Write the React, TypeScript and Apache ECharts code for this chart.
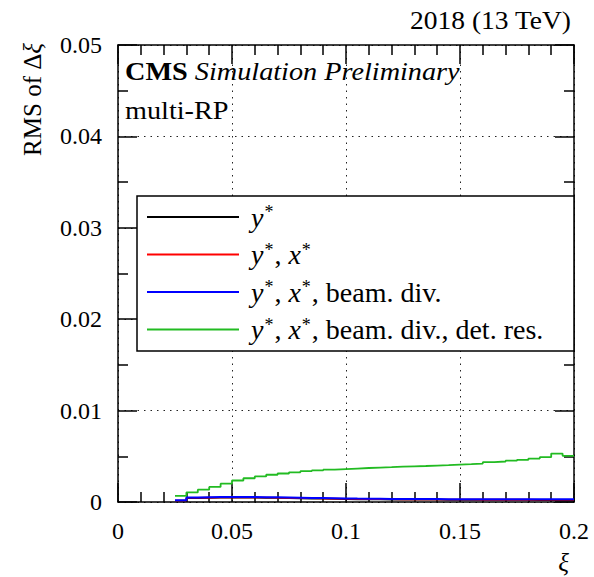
import React, { useEffect, useRef } from "react";
import * as echarts from "echarts";

// Lower edges of the xi bins (bin width 0.005); the last bin closes at 0.2
const BIN_LOW = [
  0.025, 0.03, 0.035, 0.04, 0.045, 0.05, 0.055, 0.06, 0.065, 0.07, 0.075, 0.08,
  0.085, 0.09, 0.095, 0.1, 0.105, 0.11, 0.115, 0.12, 0.125, 0.13, 0.135, 0.14,
  0.145, 0.15, 0.155, 0.16, 0.165, 0.17, 0.175, 0.18, 0.185, 0.19, 0.195,
];
const XI_MAX = 0.2;

// RMS of delta-xi per bin for each set of simulated effects
const RMS_Y = [
  0.00014, 0.00042, 0.00044, 0.00046, 0.00047, 0.00047, 0.00046, 0.00045, 0.00043,
  0.00041, 0.00039, 0.00037, 0.00035, 0.00033, 0.00031, 0.00029, 0.00028, 0.00027,
  0.00026, 0.00025, 0.00025, 0.00024, 0.00024, 0.00023, 0.00023, 0.00023, 0.00022,
  0.00022, 0.00022, 0.00022, 0.00022, 0.00021, 0.00021, 0.00021, 0.00021,
];
const RMS_YX = [
  0.00017, 0.00046, 0.00048, 0.00050, 0.00051, 0.00051, 0.00050, 0.00049, 0.00047,
  0.00045, 0.00043, 0.00041, 0.00039, 0.00037, 0.00035, 0.00033, 0.00032, 0.00031,
  0.00030, 0.00029, 0.00029, 0.00028, 0.00028, 0.00027, 0.00027, 0.00027, 0.00026,
  0.00026, 0.00026, 0.00026, 0.00026, 0.00025, 0.00025, 0.00025, 0.00025,
];
const RMS_YX_DIV = [
  0.00020, 0.00050, 0.00052, 0.00054, 0.00055, 0.00055, 0.00054, 0.00053, 0.00051,
  0.00049, 0.00047, 0.00045, 0.00043, 0.00041, 0.00039, 0.00037, 0.00036, 0.00035,
  0.00034, 0.00033, 0.00033, 0.00032, 0.00032, 0.00031, 0.00031, 0.00031, 0.00030,
  0.00030, 0.00030, 0.00030, 0.00030, 0.00029, 0.00029, 0.00029, 0.00029,
];
const RMS_YX_DIV_RES = [
  0.00068, 0.00105, 0.00135, 0.00165, 0.00200, 0.00235, 0.00260, 0.00280, 0.00298,
  0.00312, 0.00325, 0.00337, 0.00346, 0.00354, 0.00360, 0.00366, 0.00372, 0.00377,
  0.00381, 0.00386, 0.00390, 0.00394, 0.00399, 0.00404, 0.00410, 0.00414, 0.00420,
  0.00436, 0.00443, 0.00452, 0.00461, 0.00475, 0.00490, 0.00530, 0.00505,
];

const SERIES_NAMES = [
  "y*",
  "y*, x*",
  "y*, x*, beam. div.",
  "y*, x*, beam. div., det. res.",
];
const SERIES_COLORS = ["#000000", "#ff0000", "#0000ff", "#22bb22"];
const SERIES_WIDTHS = [1.6, 1.6, 2, 1.8];
const SERIES_VALUES = [RMS_Y, RMS_YX, RMS_YX_DIV, RMS_YX_DIV_RES];

const SERIF = "Liberation Serif";

// Histogram outline: each bin value held from its lower edge to the next edge
function histPoints(values: number[]): [number, number][] {
  const pts: [number, number][] = BIN_LOW.map((x, i) => [x, values[i]]);
  pts.push([XI_MAX, values[values.length - 1]]);
  return pts;
}

// Turn "y*" / "x*" into italic letters with a raised asterisk
function richLabel(name: string): string {
  return name
    .split(/(y\*|x\*)/)
    .filter((s) => s.length > 0)
    .map((s) => {
      if (s === "y*") return "{i|y}{s|*}";
      if (s === "x*") return "{i|x}{s|*}";
      return "{n|" + s + "}";
    })
    .join("");
}

const richStyles = {
  n: { fontFamily: SERIF, fontSize: 28, color: "#000", lineHeight: 30 },
  i: { fontFamily: SERIF, fontSize: 28, fontStyle: "italic", color: "#000", lineHeight: 30 },
  s: { fontFamily: SERIF, fontSize: 18, color: "#000", verticalAlign: "top", padding: [1, 1, 0, 1] },
};

export default function App() {
  const ref = useRef<HTMLDivElement>(null);

  useEffect(() => {
    if (!ref.current) return;
    const chart = echarts.init(ref.current, null, { renderer: "svg" });

    const frameLine = { show: true, onZero: false, lineStyle: { color: "#000", width: 1.5 } };
    const xTicks = {
      axisTick: { show: true, inside: true, length: 19, lineStyle: { color: "#000", width: 1.5 } },
      minorTick: { show: true, splitNumber: 5, length: 10, lineStyle: { color: "#000", width: 1.5 } },
    };
    const yTicks = {
      axisTick: { show: true, inside: true, length: 19, lineStyle: { color: "#000", width: 1.5 } },
      minorTick: { show: true, splitNumber: 2, length: 10, lineStyle: { color: "#000", width: 1.5 } },
    };
    const dotted = { show: true, lineStyle: { color: "#222", width: 1, type: [1.5, 5] } };
    const tickLabel = { fontFamily: SERIF, fontSize: 24, color: "#000" };

    chart.setOption({
      animation: false,
      backgroundColor: "#fff",
      textStyle: { fontFamily: SERIF },
      grid: { left: 118, top: 45, width: 456, height: 457, containLabel: false },
      xAxis: [
        {
          type: "value", min: 0, max: 0.2, interval: 0.05, position: "bottom",
          axisLine: frameLine, ...xTicks, splitLine: dotted,
          axisLabel: { ...tickLabel, margin: 17 },
        },
        {
          type: "value", min: 0, max: 0.2, interval: 0.05, position: "top",
          axisLine: frameLine, ...xTicks, splitLine: { show: false },
          axisLabel: { show: false },
        },
      ],
      yAxis: [
        {
          type: "value", min: 0, max: 0.05, interval: 0.01, position: "left",
          axisLine: frameLine, ...yTicks, splitLine: dotted,
          axisLabel: { ...tickLabel, margin: 16 },
        },
        {
          type: "value", min: 0, max: 0.05, interval: 0.01, position: "right",
          axisLine: frameLine, ...yTicks, splitLine: { show: false },
          axisLabel: { show: false },
        },
      ],
      legend: {
        show: true,
        z: 10,
        orient: "vertical",
        left: 147,
        top: 202,
        padding: 0,
        itemGap: 7.5,
        itemWidth: 92,
        itemHeight: 2,
        icon: "rect",
        selectedMode: false,
        data: SERIES_NAMES,
        formatter: (name: string) => " " + richLabel(name),
        textStyle: { fontFamily: SERIF, fontSize: 28, color: "#000", lineHeight: 30, rich: richStyles },
      },
      series: SERIES_VALUES.map((vals, k) => ({
        name: SERIES_NAMES[k],
        type: "line",
        step: "end",
        xAxisIndex: 0,
        yAxisIndex: 0,
        showSymbol: false,
        symbol: "none",
        color: SERIES_COLORS[k],
        lineStyle: { color: SERIES_COLORS[k], width: SERIES_WIDTHS[k] },
        z: 2 + k,
        data: histPoints(vals),
      })),
      graphic: [
        {
          type: "rect",
          z: 5,
          shape: { x: 137, y: 196, width: 437, height: 155 },
          style: { fill: "#fff", stroke: "#000", lineWidth: 1.5 },
        },
        {
          type: "text",
          z: 6,
          x: 571,
          y: 21,
          scaleX: 1.1,
          style: {
            text: "2018 (13 TeV)", fontFamily: SERIF, fontSize: 25, fill: "#000",
            align: "right", verticalAlign: "middle",
          },
        },
        {
          type: "text",
          z: 6,
          x: 125,
          y: 72,
          scaleX: 1.13,
          style: {
            text: "{b|CMS} {it|Simulation Preliminary}",
            verticalAlign: "middle",
            align: "left",
            rich: {
              b: { fontFamily: SERIF, fontSize: 25, fontWeight: "bold", fill: "#000" },
              it: { fontFamily: SERIF, fontSize: 25, fontStyle: "italic", fill: "#000" },
            },
            fontFamily: SERIF, fontSize: 25, fill: "#000",
          },
        },
        {
          type: "text",
          z: 6,
          x: 125,
          y: 111,
          scaleX: 1.13,
          style: {
            text: "multi-RP", fontFamily: SERIF, fontSize: 25, fill: "#000",
            align: "left", verticalAlign: "middle",
          },
        },
        {
          type: "text",
          z: 6,
          x: 32,
          y: 43,
          rotation: Math.PI / 2,
          style: {
            text: "RMS of Δ{it|ξ}",
            fontFamily: SERIF, fontSize: 25, fill: "#000",
            align: "right", verticalAlign: "middle",
            rich: { it: { fontFamily: SERIF, fontSize: 25, fontStyle: "italic", fill: "#000" } },
          },
        },
        {
          type: "text",
          z: 6,
          x: 569,
          y: 562,
          style: {
            text: "ξ", fontFamily: SERIF, fontSize: 25, fontStyle: "italic", fill: "#000",
            align: "right", verticalAlign: "middle",
          },
        },
      ],
    });

    return () => chart.dispose();
  }, []);

  return (
    <div
      ref={ref}
      style={{ position: "absolute", left: 0, top: 0, width: 594, height: 577 }}
    />
  );
}
